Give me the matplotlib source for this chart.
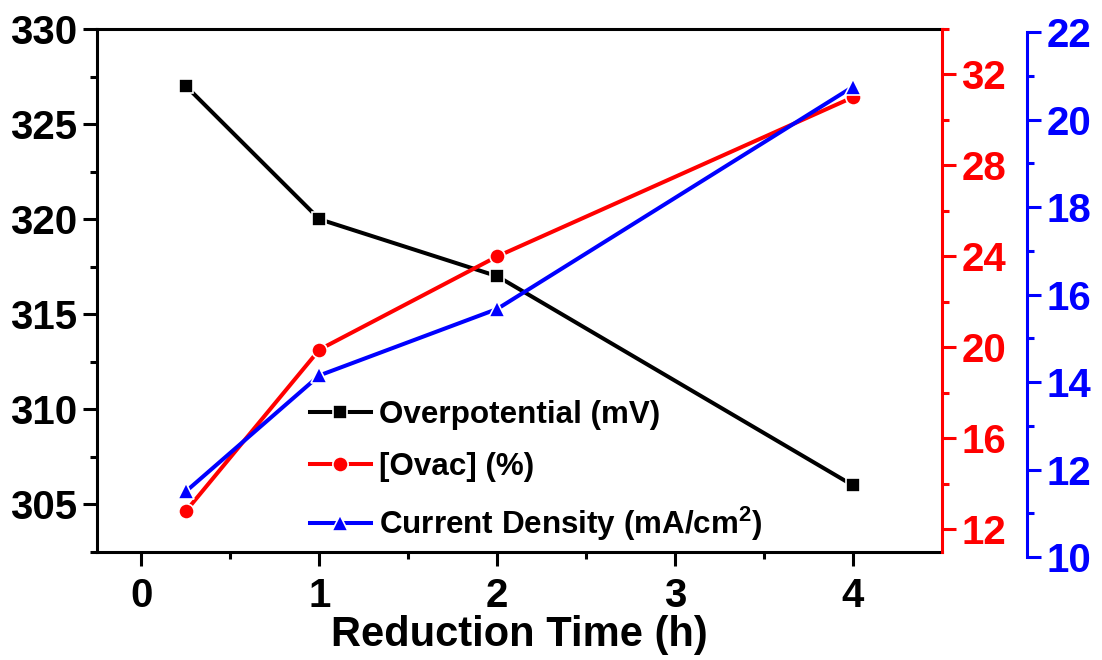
import numpy as np
import matplotlib
matplotlib.use("Agg")
import matplotlib.pyplot as plt
from matplotlib.ticker import MultipleLocator, FixedLocator

plt.rcParams['font.family'] = ['Liberation Sans', 'DejaVu Sans']
plt.rcParams['font.weight'] = 'bold'
plt.rcParams['mathtext.fontset'] = 'custom'
plt.rcParams['mathtext.bf'] = 'Liberation Sans:bold'
plt.rcParams['mathtext.rm'] = 'Liberation Sans:bold'

# data
reduction_time = [0.25, 1, 2, 4]
overpotential = [327, 320, 317, 306]
ovac = [12.8, 19.9, 24.0, 31.0]
current_density = [11.5, 14.15, 15.67, 20.75]

fig = plt.figure(figsize=(11.02, 6.6), dpi=100)
W, H = 1102, 660
ax1 = fig.add_axes([97 / W, (H - 552) / H, (942 - 97) / W, (552 - 29) / H])
ax2 = ax1.twinx()
ax3 = fig.add_axes([97 / W, (H - 557) / H, (942 - 97) / W, (557 - 32) / H])

lw = 2.2
dlw = 2.9
tick_kw = dict(direction='out', width=2.2, labelsize=29, pad=4)

l1, = ax1.plot(reduction_time, overpotential, color='black', lw=dlw, marker='s',
               ms=10, mec='white', mew=1.2, label='Overpotential (mV)')
l2, = ax2.plot(reduction_time, ovac, color='red', lw=dlw, marker='o',
               ms=11, mec='white', mew=1.2, label='[Ovac] (%)')
l3, = ax3.plot(reduction_time, current_density, color='blue', lw=dlw, marker='^',
               ms=12, mec='white', mew=1.2, label='Current Density (mA/cm$^\\mathbf{2}$)')

for ax in (ax1, ax2, ax3):
    ax.set_xlim(-0.25, 4.5)

ax1.set_ylim(302.5, 330)
ax2.set_ylim(11, 34)
ax3.set_ylim(10, 22)

# main axes
for s in ('left', 'bottom', 'top'):
    ax1.spines[s].set_linewidth(lw)
ax1.spines['right'].set_visible(False)
ax1.yaxis.set_major_locator(MultipleLocator(5))
ax1.yaxis.set_minor_locator(MultipleLocator(2.5))
ax1.xaxis.set_major_locator(MultipleLocator(1))
ax1.xaxis.set_minor_locator(FixedLocator([0.5, 1.5, 2.5, 3.5]))
ax1.tick_params(axis='both', which='major', length=10, **tick_kw)
ax1.tick_params(axis='both', which='minor', length=5, direction='out', width=2.2)
ax1.tick_params(axis='x', pad=8)
ax1.set_xlabel('Reduction Time (h)', fontsize=30, fontweight='bold', labelpad=0)

# red axis
for s in ('left', 'bottom', 'top'):
    ax2.spines[s].set_visible(False)
ax2.spines['right'].set_color('red')
ax2.spines['right'].set_linewidth(lw)
ax2.yaxis.set_major_locator(MultipleLocator(4))
ax2.yaxis.set_minor_locator(FixedLocator([14, 18, 22, 26, 30, 34]))
ax2.tick_params(axis='y', which='major', length=10, colors='red', **tick_kw)
ax2.tick_params(axis='y', which='minor', length=5, direction='out', width=2.2, colors='red')

# blue axis
ax3.patch.set_visible(False)
for s in ('left', 'bottom', 'top'):
    ax3.spines[s].set_visible(False)
ax3.spines['right'].set_position(('outward', 61))
ax3.spines['right'].set_color('blue')
ax3.spines['right'].set_linewidth(lw)
ax3.yaxis.set_label_position('right')
ax3.yaxis.tick_right()
ax3.xaxis.set_visible(False)
ax3.yaxis.set_major_locator(MultipleLocator(2))
ax3.yaxis.set_minor_locator(MultipleLocator(1))
ax3.tick_params(axis='y', which='major', length=10, colors='blue', **tick_kw)
ax3.tick_params(axis='y', which='minor', length=5, direction='out', width=2.2, colors='blue')

leg = fig.legend(handles=[l1, l2, l3], loc='upper left',
                 bbox_to_anchor=(297 / W, 1 - 387 / H), frameon=False,
                 prop={'size': 22.6, 'weight': 'bold'}, handlelength=1.95,
                 handletextpad=0.25, labelspacing=0.72, borderaxespad=0)

fig.savefig('out.png', dpi=100)
